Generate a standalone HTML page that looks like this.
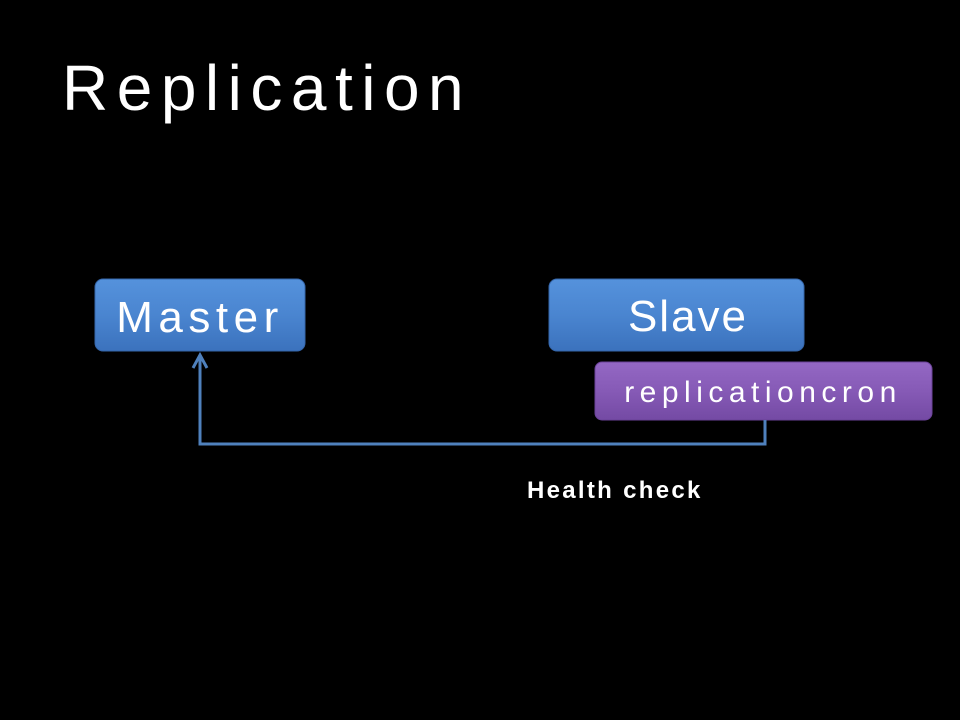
<!DOCTYPE html>
<html>
<head>
<meta charset="utf-8">
<style>
html,body{margin:0;padding:0;background:#000;}
body{width:960px;height:720px;overflow:hidden;position:relative;}
svg{position:absolute;left:0;top:0;}
</style>
</head>
<body>
<svg width="960" height="720" viewBox="0 0 960 720" xmlns="http://www.w3.org/2000/svg">
  <defs>
    <linearGradient id="blue" x1="0" y1="0" x2="0" y2="1">
      <stop offset="0" stop-color="#5592dc"/>
      <stop offset="0.5" stop-color="#4a85d0"/>
      <stop offset="1" stop-color="#3b72bd"/>
    </linearGradient>
    <linearGradient id="purple" x1="0" y1="0" x2="0" y2="1">
      <stop offset="0" stop-color="#9468c4"/>
      <stop offset="0.5" stop-color="#865ab6"/>
      <stop offset="1" stop-color="#744aa4"/>
    </linearGradient>
  </defs>
  <rect width="960" height="720" fill="#000"/>

  <!-- Title -->
  <text x="62" y="110" font-family="Liberation Sans, DejaVu Sans, sans-serif" font-size="64" fill="#fff" letter-spacing="8.5">Replication</text>

  <!-- Master -->
  <rect x="95" y="279" width="210" height="72" rx="8" ry="8" fill="url(#blue)" stroke="#3566aa" stroke-width="1"/>
  <text x="200" y="332" text-anchor="middle" font-family="Liberation Sans, DejaVu Sans, sans-serif" font-size="44" fill="#fff" letter-spacing="5.5">Master</text>

  <!-- Slave -->
  <rect x="549" y="279" width="255" height="72" rx="8" ry="8" fill="url(#blue)" stroke="#3566aa" stroke-width="1"/>
  <text x="688" y="331" text-anchor="middle" font-family="Liberation Sans, DejaVu Sans, sans-serif" font-size="44" fill="#fff" letter-spacing="2">Slave</text>

  <!-- replicationcron -->
  <rect x="595" y="362" width="337" height="58" rx="7" ry="7" fill="url(#purple)" stroke="#6a4298" stroke-width="1"/>
  <text x="763" y="402" text-anchor="middle" font-family="Liberation Sans, DejaVu Sans, sans-serif" font-size="30" fill="#fff" letter-spacing="5.5">replicationcron</text>

  <!-- Connector -->
  <polyline points="765,420 765,444 200,444 200,355" fill="none" stroke="#4f81bd" stroke-width="3"/>
  <polyline points="193,368 200,355 207,368" fill="none" stroke="#4f81bd" stroke-width="3" stroke-linejoin="miter"/>

  <!-- Health check -->
  <text x="527" y="498" font-family="Liberation Sans, DejaVu Sans, sans-serif" font-size="24" font-weight="bold" fill="#fff" letter-spacing="2.3">Health check</text>
</svg>
</body>
</html>
